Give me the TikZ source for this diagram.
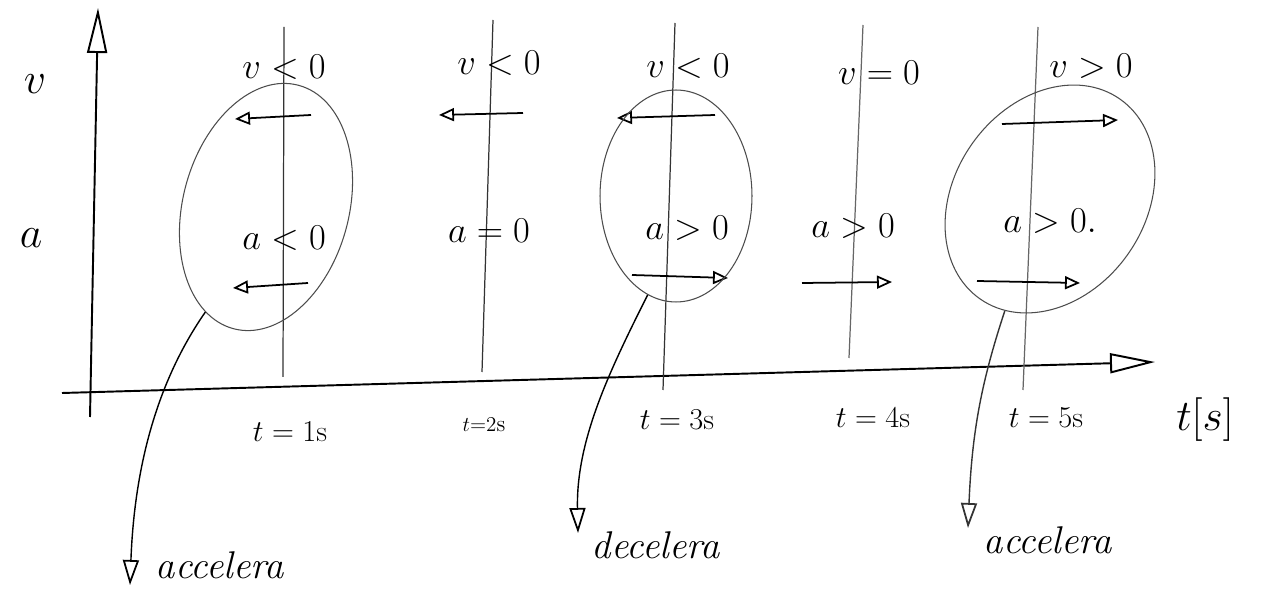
\documentclass[tikz,border=0pt]{standalone}
\usetikzlibrary{arrows.meta,shapes.geometric}
\begin{document}
\begin{tikzpicture}[x=0.02cm,y=-0.02cm,
  axis/.style={line width=1.1pt,-{Triangle[open,length=0.9cm,width=0.4cm,line width=1.1pt]}},
  tline/.style={line width=0.7pt,black!80},
  vec/.style={line width=1pt,-{Triangle[open,length=0.3cm,width=0.26cm,line width=1pt]}},
  ring/.style={draw=black!70,line width=0.6pt,ellipse,inner sep=0pt},
  pointer/.style={line width=0.8pt,-{Triangle[open,length=0.5cm,width=0.32cm,line width=1pt]}},
  lbl/.style={font=\fontsize{22}{26}\selectfont,inner sep=1pt},
  biglbl/.style={font=\fontsize{32}{38}\selectfont,inner sep=1pt},
  tlbl/.style={font=\fontsize{17}{20}\selectfont,inner sep=1pt},
  hand/.style={font=\fontsize{22}{26}\selectfont\itshape,inner sep=1pt}]
\useasboundingbox (0,0) rectangle (1262,607);

% axes
\coordinate (vb) at (90,417);
\coordinate (vt) at (98,8);
\coordinate (ha) at (62,393);
\coordinate (hb) at (1155,362);
\draw[axis] (vb) -- (vt);
\draw[axis] (ha) -- (hb);
\node[biglbl] (vl) at (35,84) {$v$};
\node[biglbl] (al) at (31,238) {$a$};
\node[font=\fontsize{34}{40}\selectfont,inner sep=1pt] (tax) at (1205,420) {$t[s]$};

% time lines
\coordinate (t1a) at (284,27);  \coordinate (t1b) at (283,377);
\coordinate (t2a) at (493,20);  \coordinate (t2b) at (482,372);
\coordinate (t3a) at (675,23);  \coordinate (t3b) at (663,390);
\coordinate (t4a) at (863,25);  \coordinate (t4b) at (849,358);
\coordinate (t5a) at (1038,27); \coordinate (t5b) at (1023,390);
\draw[tline] (t1a) -- (t1b);
\draw[tline] (t2a) -- (t2b);
\draw[tline] (t3a) -- (t3b);
\draw[tline,black!60] (t4a) -- (t4b);
\draw[tline,black!60] (t5a) -- (t5b);

% time labels
\node[tlbl] (l1) at (290,432) {$t=1$s};
\node[font=\fontsize{13}{16}\selectfont,inner sep=1pt] (l2) at (484,425) {$t{=}2$s};
\node[tlbl] (l3) at (677,420) {$t=3$s};
\node[tlbl] (l4) at (873,418) {$t=4$s};
\node[tlbl] (l5) at (1046,418) {$t=5$s};

% velocity labels
\node[lbl] (v1) at (284,67) {$v<0$};
\node[lbl] (v2) at (499,63) {$v<0$};
\node[lbl] (v3) at (688,66) {$v<0$};
\node[lbl] (v4) at (879,73) {$v=0$};
\node[lbl] (v5) at (1091,66) {$v>0$};

% acceleration labels
\node[lbl] (a1) at (284,238) {$a<0$};
\node[lbl] (a2) at (489,231) {$a=0$};
\node[lbl] (a3) at (687,228) {$a>0$};
\node[lbl] (a4) at (853,226) {$a>0$};
\node[lbl] (a5) at (1050,221) {$a>0.$};

% velocity vectors
\coordinate (v1s) at (311,115);  \coordinate (v1e) at (235,119);
\coordinate (v2s) at (523,113);  \coordinate (v2e) at (439,115);
\coordinate (v3s) at (715,115);  \coordinate (v3e) at (617,118);
\coordinate (v5s) at (1002,124); \coordinate (v5e) at (1118,120);
\draw[vec] (v1s) -- (v1e);
\draw[vec] (v2s) -- (v2e);
\draw[vec] (v3s) -- (v3e);
\draw[vec] (v5s) -- (v5e);

% acceleration vectors
\coordinate (a1s) at (308,283);  \coordinate (a1e) at (233,288);
\coordinate (a3s) at (632,275);  \coordinate (a3e) at (728,278);
\coordinate (a4s) at (802,283);  \coordinate (a4e) at (892,282);
\coordinate (a5s) at (977,281);  \coordinate (a5e) at (1080,283);
\draw[vec] (a1s) -- (a1e);
\draw[vec] (a3s) -- (a3e);
\draw[vec] (a4s) -- (a4e);
\draw[vec] (a5s) -- (a5e);

% ellipses
\node[ring,minimum width=3.32cm,minimum height=5.04cm,rotate=-15] (e1) at (266,207) {};
\node[ring,minimum width=3.04cm,minimum height=4.24cm] (e3) at (676,196) {};
\node[ring,minimum width=3.82cm,minimum height=4.88cm,rotate=-35] (e5) at (1050,199) {};

% outcome labels
\node[hand] (o1) at (220,565) {accelera};
\node[hand] (o3) at (656,545) {decelera};
\node[hand] (o5) at (1048,540) {accelera};

% pointers
\coordinate (p1) at (130,585);
\coordinate (p3) at (578,533);
\coordinate (p5) at (968,528);
\draw[pointer] (e1.255) .. controls (165,370) and (135,450) .. (p1);
\draw[pointer] (e3.254) .. controls (610,370) and (576,440) .. (p3);
\draw[pointer,black!80] (e5.283) .. controls (982,380) and (972,430) .. (p5);
\end{tikzpicture}
\end{document}
